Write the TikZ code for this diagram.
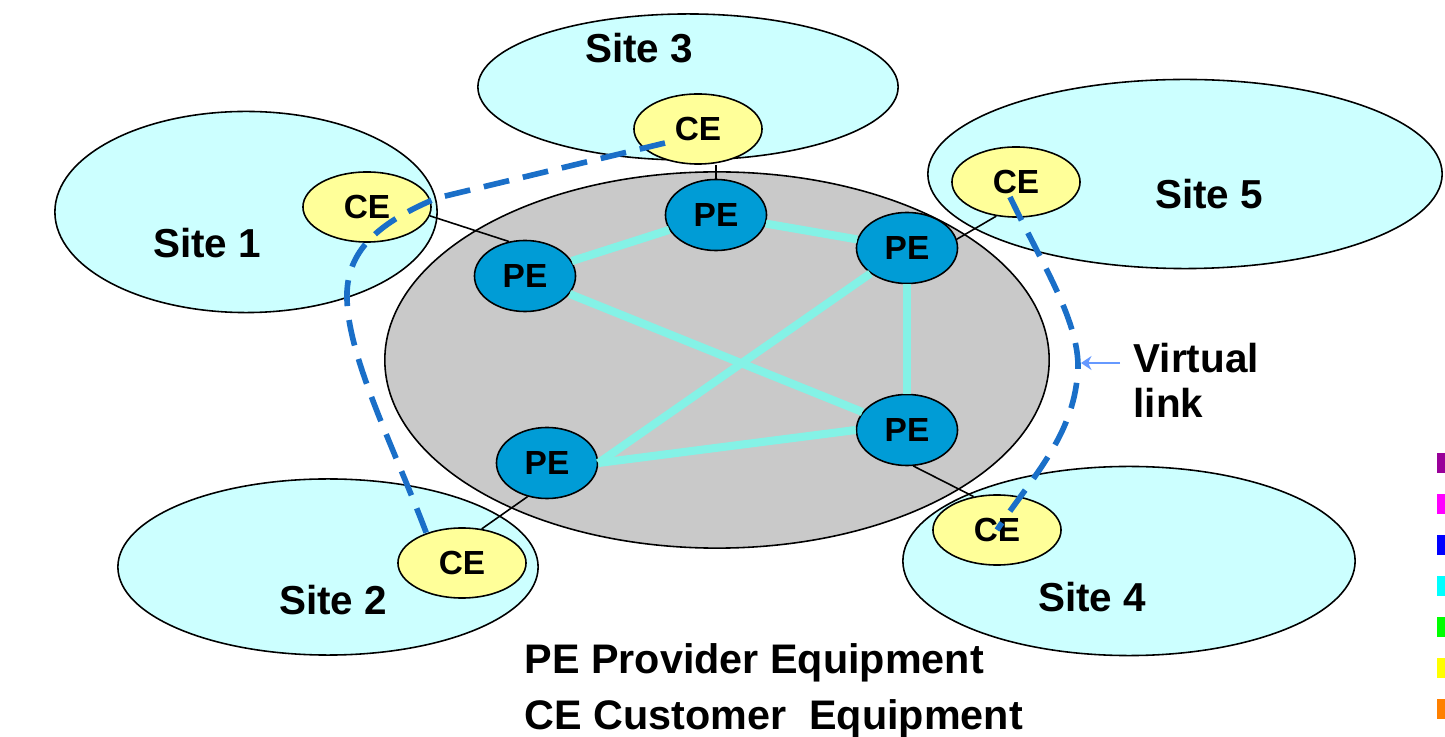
\documentclass[tikz,border=0pt]{standalone}
\usepackage{fontspec}
\setmainfont{Liberation Sans}
\usetikzlibrary{shapes.geometric,calc,arrows.meta}
\definecolor{sitecyan}{HTML}{CCFFFF}
\definecolor{coregray}{HTML}{C9C9C9}
\definecolor{peblue}{HTML}{009CD6}
\definecolor{ceyellow}{HTML}{FFFF99}
\definecolor{linkcyan}{HTML}{84F2E6}
\definecolor{vlblue}{HTML}{1A6FC8}
\definecolor{arrblue}{HTML}{6699FF}
\definecolor{stripviolet}{HTML}{990099}
\definecolor{stripmagenta}{HTML}{FF00FF}
\definecolor{stripblue}{HTML}{0000FF}
\definecolor{stripcyan}{HTML}{00FFFF}
\definecolor{stripgreen}{HTML}{00FF00}
\definecolor{stripyellow}{HTML}{FFFF00}
\definecolor{striporange}{HTML}{FF8000}
\tikzstyle{site} = [ellipse, draw=black, line width=.45pt, fill=sitecyan, inner sep=0pt]
\tikzstyle{core} = [ellipse, draw=black, line width=.45pt, fill=coregray, inner sep=0pt, minimum width=6.64cm, minimum height=3.76cm]
\tikzstyle{pe} = [ellipse, draw=black, line width=.45pt, fill=peblue, inner sep=0pt, minimum width=1.01cm, minimum height=.71cm, font=\fontsize{9.5}{11}\selectfont\bfseries]
\tikzstyle{ce} = [ellipse, draw=black, line width=.45pt, fill=ceyellow, inner sep=0pt, minimum width=1.28cm, minimum height=.70cm, font=\fontsize{9.5}{11}\selectfont\bfseries]
\tikzstyle{sitelbl} = [anchor=base, inner sep=0pt, font=\fontsize{11.5}{14}\selectfont\bfseries]
\tikzstyle{leg} = [anchor=base west, inner sep=0pt, font=\fontsize{11.75}{15}\selectfont\bfseries]
\tikzstyle{tie} = [draw=black, line width=.45pt]
\tikzstyle{pelink} = [draw=linkcyan, line width=2.3pt]
\tikzstyle{vlink} = [draw=vlblue, line width=1.6pt, dash pattern=on 7.4pt off 4pt]
\tikzstyle{vlarrow} = [draw=arrblue, line width=.6pt, -{Stealth[length=3pt,width=4pt]}]
\newcommand{\sitenode}[4]{\node [site, minimum width=#3cm, minimum height=#4cm] (#1) at (#2) {};}
\newcommand{\penode}[2]{\node [pe] (#1) at (#2) {PE};}
\newcommand{\cenode}[2]{\node [ce] (#1) at (#2) {CE};}

\begin{document}
\begin{tikzpicture}[x=0.01cm, y=-0.01cm]%
	\useasboundingbox (0,0) rectangle (1445,737);%
	% provider core and customer sites
	\node [core] (core) at (717,360) {};%
	\sitenode{site1}{246,212}{3.82}{2.01}%
	\sitenode{site3}{688,87}{4.20}{1.46}%
	\sitenode{site5}{1185,174}{5.14}{1.89}%
	\sitenode{site2}{328,567}{4.20}{1.76}%
	\sitenode{site4}{1129,561}{4.52}{1.89}%
	\node [sitelbl] (lbl1) at (207,258) {Site 1};%
	\node [sitelbl] (lbl3) at (639,63) {Site 3};%
	\node [sitelbl] (lbl5) at (1209,209) {Site 5};%
	\node [sitelbl] (lbl2) at (333,614) {Site 2};%
	\node [sitelbl] (lbl4) at (1092,612) {Site 4};%
	% equipment
	\penode{pe1}{525,276}%
	\penode{pe2}{716,215}%
	\penode{pe3}{907,248}%
	\penode{pe4}{907,430}%
	\penode{pe5}{547,463}%
	\cenode{ce1}{367,207}%
	\cenode{ce3}{698,129}%
	\cenode{ce5}{1016,182}%
	\cenode{ce2}{462,563}%
	\cenode{ce4}{997,530}%
	% access ties
	\draw [tie] (ce1.-8) -- (pe1.115);%
	\draw [tie] (pe2.north) -- (pe2.north |- ce3.south);%
	\draw [tie] (ce5.240) -- (pe3.10);%
	\draw [tie] (ce2.60) -- (pe5.240);%
	\draw [tie] (ce4.125) -- (pe4.280);%
	% core links
	\draw [pelink] (pe1) -- (pe2);%
	\draw [pelink] (pe2) -- (pe3);%
	\draw [pelink] (pe1) -- (pe4);%
	\draw [pelink] (pe3) -- (pe4);%
	\draw [pelink] (pe5.east) -- (pe3);%
	\draw [pelink] (pe5.east) -- (pe4.west);%
	% virtual links
	\draw [vlink] ($(ce3)+(-33,14)$) -- (437,198) .. controls (380,222) and (345,250) .. (347,300) .. controls (349,360) and (395,450) .. (ce2.140);%
	\draw [vlink] ($(ce5)+(-6,15)$) .. controls (1045,270) and (1085,330) .. (1077,380) .. controls (1070,440) and (1030,480) .. (ce4.center);%
	\node [sitelbl, anchor=base west] (vl1) at (1133,373) {Virtual};%
	\node [sitelbl, anchor=base west] (vl2) at (1133,418) {link};%
	\coordinate (vltail) at (1120,363);%
	\coordinate (vltip) at (1081,363);%
	\draw [vlarrow] (vltail) -- (vltip);%
	% legend
	\node [leg] (legpe) at (524,673) {PE Provider Equipment};%
	\node [leg] (legce) at (524,729) {CE Customer\ \ Equipment};%
	% colour strip at the edge
	\foreach \col [count=\i from 0] in {stripviolet, stripmagenta, stripblue, stripcyan, stripgreen, stripyellow, striporange}%
		\fill [\col] (1437,453+41*\i) rectangle (1450,473+41*\i);%
\end{tikzpicture}
\end{document}
